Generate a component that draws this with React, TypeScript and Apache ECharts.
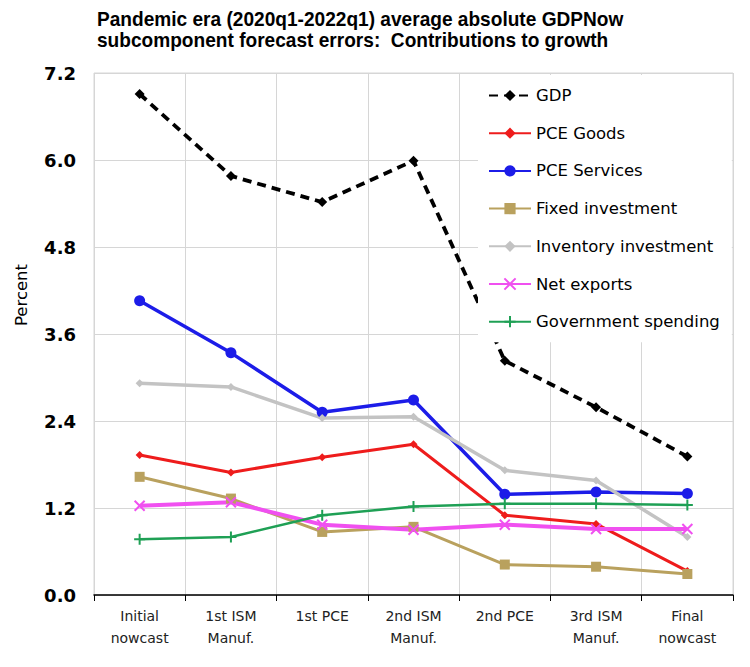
import React, { useEffect, useRef } from "react";
import * as echarts from "echarts";

const categories = [
  "Initial\nnowcast",
  "1st ISM\nManuf.",
  "1st PCE",
  "2nd ISM\nManuf.",
  "2nd PCE",
  "3rd ISM\nManuf.",
  "Final\nnowcast",
];
const gdp = [6.91, 5.78, 5.42, 5.99, 3.23, 2.59, 1.91];
const pceGoods = [1.93, 1.69, 1.9, 2.08, 1.1, 0.98, 0.33];
const pceServices = [4.06, 3.34, 2.52, 2.69, 1.39, 1.42, 1.4];
const fixedInvestment = [1.63, 1.33, 0.87, 0.94, 0.42, 0.39, 0.29];
const inventoryInvestment = [2.92, 2.87, 2.44, 2.46, 1.72, 1.58, 0.8];
const netExports = [1.23, 1.28, 0.97, 0.9, 0.97, 0.91, 0.91];
const governmentSpending = [0.77, 0.8, 1.1, 1.22, 1.26, 1.26, 1.24];
const yMin = 0;
const yMax = 7.2;
const yStep = 1.2;

const titleText =
  "Pandemic era (2020q1-2022q1) average absolute GDPNow\nsubcomponent forecast errors:  Contributions to growth";
const yAxisTitle = "Percent";

const FONT = "'DejaVu Sans', Verdana, sans-serif";
const X_SYMBOL = "path://M0,0L10,10M0,10L10,0";
const PLUS_SYMBOL = "path://M5,0L5,10M0,5L10,5";

export default function App() {
  const ref = useRef<HTMLDivElement>(null);
  useEffect(() => {
    if (!ref.current) return;
    const chart = echarts.init(ref.current, undefined, { renderer: "svg" });
    const mk = (
      name: string,
      data: number[],
      color: string,
      width: number,
      symbol: string,
      symbolSize: number,
      dashed = false,
      stroke = false
    ) => ({
      name,
      type: "line",
      data,
      symbol,
      symbolSize,
      showSymbol: true,
      lineStyle: { color, width, type: dashed ? [9, 6] : "solid" },
      itemStyle: stroke
        ? { color, borderColor: color, borderWidth: 2 }
        : { color, borderColor: color, borderWidth: 0 },
      emphasis: { disabled: true },
      z: 2,
    });
    chart.setOption({
      animation: false,
      backgroundColor: "#ffffff",
      graphic: [
        {
          type: "text",
          x: 97,
          y: 8,
          scaleX: 0.955,
          style: {
            text: titleText,
            font: "bold 20px 'Liberation Sans', Arial, sans-serif",
            lineHeight: 21,
            fill: "#000",
            align: "left",
            verticalAlign: "top",
          },
        },
        {
          type: "text",
          x: 21,
          y: 295,
          rotation: Math.PI / 2,
          style: {
            text: yAxisTitle,
            font: "16.5px 'DejaVu Sans', Verdana, sans-serif",
            fill: "#000",
            align: "center",
            verticalAlign: "middle",
          },
        },
      ],
      grid: {
        left: 94,
        right: 17,
        top: 73,
        bottom: 72,
        show: true,
        borderColor: "#d6d6d6",
        borderWidth: 1,
        containLabel: false,
      },
      legend: {
        orient: "vertical",
        left: 478,
        top: 75,
        backgroundColor: "#ffffff",
        padding: [12, 12, 12, 10],
        itemWidth: 42,
        itemHeight: 14,
        itemGap: 20.7,
        z: 10,
        textStyle: { fontFamily: FONT, fontSize: 16.5, color: "#000" },
        data: [
          "GDP",
          "PCE Goods",
          "PCE Services",
          "Fixed investment",
          "Inventory investment",
          "Net exports",
          "Government spending",
        ],
      },
      xAxis: {
        type: "category",
        data: categories,
        boundaryGap: true,
        axisLine: { show: true, lineStyle: { color: "#000", width: 1.5 } },
        axisTick: { show: true, length: 6, lineStyle: { color: "#000" } },
        splitLine: { show: true, lineStyle: { color: "#d6d6d6", width: 1 } },
        axisLabel: {
          fontFamily: FONT,
          fontSize: 14,
          color: "#222",
          lineHeight: 22,
          margin: 10,
        },
      },
      yAxis: {
        type: "value",
        min: yMin,
        max: yMax,
        interval: yStep,
        axisLine: { show: false },
        axisTick: { show: false },
        splitLine: { show: true, lineStyle: { color: "#d6d6d6", width: 1 } },
        axisLabel: {
          fontFamily: FONT,
          fontSize: 18,
          fontWeight: "bold",
          color: "#000",
          margin: 18,
          formatter: (v: number) => v.toFixed(1),
        },
      },
      series: [
        mk("GDP", gdp, "#000000", 3.8, "diamond", 10, true),
        mk("PCE Goods", pceGoods, "#ee1c1c", 3, "diamond", 8),
        mk("PCE Services", pceServices, "#1c1ce8", 3.5, "circle", 11),
        mk("Fixed investment", fixedInvestment, "#b9a15e", 3, "rect", 10),
        mk("Inventory investment", inventoryInvestment, "#c3c3c3", 3.5, "diamond", 8),
        mk("Net exports", netExports, "#f050f0", 4, X_SYMBOL, 10, false, true),
        mk("Government spending", governmentSpending, "#1fa055", 2.5, PLUS_SYMBOL, 11, false, true),
      ],
    });
    return () => chart.dispose();
  }, []);
  return (
    <div
      ref={ref}
      style={{ position: "fixed", left: 0, top: 0, width: 750, height: 667 }}
    />
  );
}
